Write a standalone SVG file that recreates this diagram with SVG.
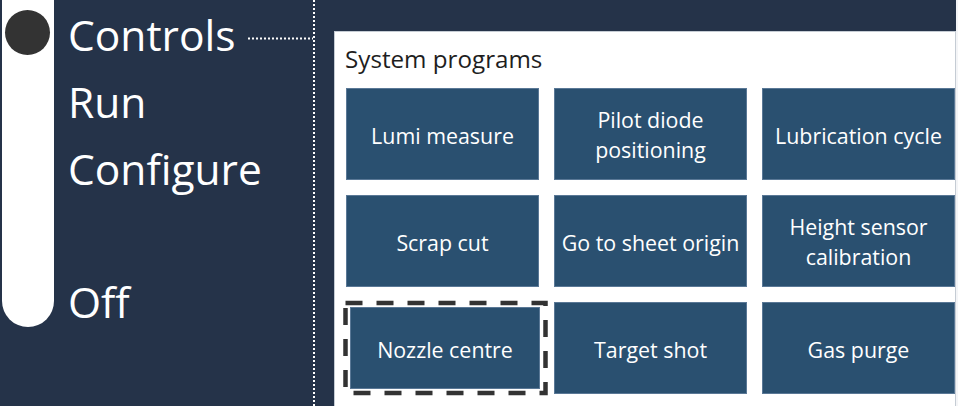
<svg xmlns="http://www.w3.org/2000/svg" width="958" height="406" viewBox="0 0 958 406">
<style>
.menu{font-family:"Open Sans","Noto Sans","DejaVu Sans",sans-serif;font-size:42.5px;fill:#ffffff}
.btn rect{fill:#2a5070;stroke:#5a7896;stroke-width:1}
.btn text{font-family:"Open Sans","Noto Sans","DejaVu Sans",sans-serif;font-size:21.4px;fill:#ffffff;text-anchor:middle}
.title{font-family:"Open Sans","Noto Sans","DejaVu Sans",sans-serif;font-size:24.2px;fill:#1e1e1e}
.dot{stroke:#ffffff;stroke-width:2;stroke-dasharray:2 2;fill:none}
</style>
<rect x="0" y="0" width="958" height="406" fill="#253349"/>
<rect x="956" y="0" width="2" height="406" fill="#f4f5f7"/>
<g id="menu">
  <rect x="2" y="-40" width="52" height="367" rx="26" ry="26" fill="#ffffff"/>
  <circle cx="27.5" cy="32.5" r="22.5" fill="#333333"/>
  <text class="menu" x="68" y="51">Controls</text>
  <text class="menu" x="68" y="118">Run</text>
  <text class="menu" x="68" y="185">Configure</text>
  <text class="menu" x="68" y="318">Off</text>
</g>
<g id="connectors">
  <line class="dot" x1="248" y1="38.5" x2="313" y2="38.5"/>
  <line class="dot" x1="314" y1="0" x2="314" y2="406"/>
</g>
<g id="panel">
  <rect x="334.5" y="31.5" width="621" height="380" fill="#ffffff" stroke="#c5ccd4" stroke-width="1"/>
  <text class="title" x="345" y="68">System programs</text>
</g>
<g id="btn-lumi" class="btn"><rect x="346.5" y="88.5" width="192" height="91"/><text x="442.5" y="144">Lumi measure</text></g>
<g id="btn-pilot" class="btn"><rect x="554.5" y="88.5" width="192" height="91"/><text x="650.5" y="128">Pilot diode</text><text x="650.5" y="158">positioning</text></g>
<g id="btn-lube" class="btn"><rect x="762.5" y="88.5" width="192" height="91"/><text x="858.5" y="144">Lubrication cycle</text></g>
<g id="btn-scrap" class="btn"><rect x="346.5" y="195.5" width="192" height="91"/><text x="442.5" y="251">Scrap cut</text></g>
<g id="btn-origin" class="btn"><rect x="554.5" y="195.5" width="192" height="91"/><text x="650.5" y="251">Go to sheet origin</text></g>
<g id="btn-height" class="btn"><rect x="762.5" y="195.5" width="192" height="91"/><text x="858.5" y="235">Height sensor</text><text x="858.5" y="265">calibration</text></g>
<g id="btn-nozzle" class="btn"><rect x="350.5" y="307.5" width="189" height="81"/><text x="445" y="358">Nozzle centre</text>
  <rect x="345.5" y="303" width="200" height="90" style="fill:none;stroke:#333333;stroke-width:4.5;stroke-dasharray:17 14"/></g>
<g id="btn-target" class="btn"><rect x="554.5" y="302.5" width="192" height="91"/><text x="650.5" y="358">Target shot</text></g>
<g id="btn-gas" class="btn"><rect x="762.5" y="302.5" width="192" height="91"/><text x="858.5" y="358">Gas purge</text></g>
</svg>
